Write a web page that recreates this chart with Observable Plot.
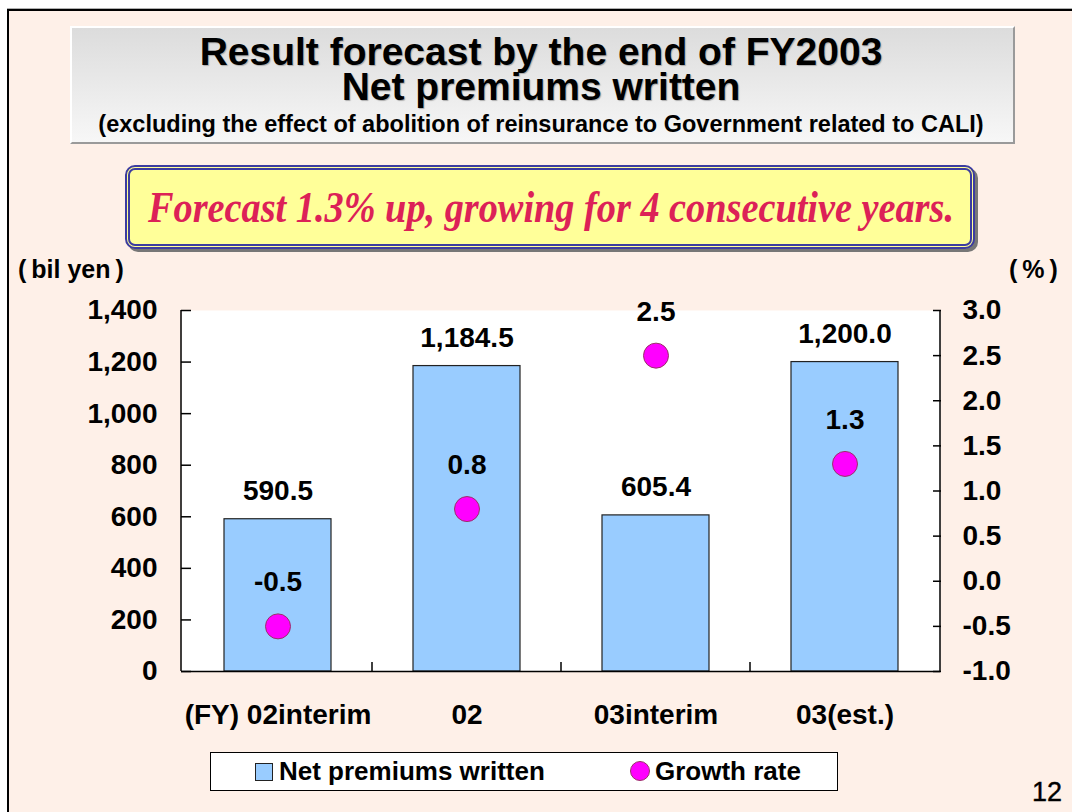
<!DOCTYPE html>
<html>
<head>
<meta charset="utf-8">
<script src="https://cdn.jsdelivr.net/npm/d3@7"></script>
<script src="https://cdn.jsdelivr.net/npm/@observablehq/plot@0.6"></script>
<style>
  html, body { margin: 0; padding: 0; background: #ffffff; }
  body { width: 1072px; height: 812px; position: relative; overflow: hidden; font-family: "Liberation Sans", Arial, sans-serif; }
  #page { position: absolute; left: 7px; top: 9px; right: -4px; bottom: -4px; background: #FEF0E8; border-left: 2px solid #000; border-top: 2px solid #000; box-shadow: 0 -1px 0 #b0b0b0; }
  #titlebox { position: absolute; left: 70px; top: 26px; width: 941px; height: 114px; background: linear-gradient(#dcdcdc, #f7f7f7); border-top: 2px solid #fff; border-left: 2px solid #fff; border-right: 2px solid #9a9a9a; border-bottom: 2px solid #9a9a9a; }
  .t { position: absolute; left: 0; width: 1082px; text-align: center; font-weight: bold; color: #000; white-space: nowrap; }
  #t1 { top: 34px; font-size: 39px; line-height: 35px; text-shadow: 1px 1px 1px #aaa; }
  #t3 { top: 111px; font-size: 23.5px; line-height: 26px; }
  #banner { position: absolute; left: 125px; top: 165px; width: 840px; height: 74px; background: #FFFF99; border: 5px double #3c3ca0; border-radius: 10px; box-shadow: 3px 3px 0 #777; }
  #bannertext { position: absolute; left: 0; top: 170px; width: 1102px; text-align: center; font-family: "Liberation Serif", "Times New Roman", serif; font-style: italic; font-weight: bold; font-size: 44px; line-height: 76px; color: #DC2157; white-space: nowrap; transform: scaleX(0.87); transform-origin: 50% 50%; }
  .lab { position: absolute; font-weight: bold; font-size: 25px; color: #000; white-space: nowrap; }
  #chart { position: absolute; left: 0; top: 290px; }
  #legend { position: absolute; left: 210px; top: 752px; width: 626px; height: 37px; background: #fff; border: 1px solid #000; }
  .lg { position: absolute; top: 0; line-height: 37px; font-size: 26px; font-weight: bold; white-space: nowrap; }
  #sw1 { position: absolute; left: 44px; top: 10px; width: 16px; height: 16px; background: #99CCFF; border: 1px solid #222; }
  #sw2 { position: absolute; left: 419px; top: 8px; width: 20px; height: 20px; border-radius: 50%; background: #FF00FF; border: 1px solid #993366; box-sizing: border-box; }
  #pagenum { position: absolute; left: 1032px; top: 777px; font-size: 27px; color: #000; -webkit-text-stroke: 0.4px #000; }
</style>
</head>
<body>
<div id="page"></div>
<div id="titlebox"></div>
<div class="t" id="t1">Result forecast by the end of FY2003<br>Net premiums written</div>
<div class="t" id="t3">(excluding the effect of abolition of reinsurance to Government related to CALI)</div>
<div id="banner"></div>
<div id="bannertext">Forecast 1.3% up, growing for 4 consecutive years.</div>
<div class="lab" style="left:18px; top:255px;">(&#8201;bil yen&#8201;)</div>
<div class="lab" style="left:1009px; top:255px;">(&#8201;%&#8201;)</div>
<div id="chart"></div>
<div id="legend">
  <div id="sw1"></div><div class="lg" style="left:68px;">Net premiums written</div>
  <div id="sw2"></div><div class="lg" style="left:444px;">Growth rate</div>
</div>
<div id="pagenum">12</div>
<script>
// ---- data ----
const categories = ["(FY) 02interim", "02", "03interim", "03(est.)"];
const premiums = [590.5, 1184.5, 605.4, 1200.0];   // bil yen
const growth = [-0.5, 0.8, 2.5, 1.3];               // %
const leftTicks = [0, 200, 400, 600, 800, 1000, 1200, 1400];
const rightTicks = [-1.0, -0.5, 0.0, 0.5, 1.0, 1.5, 2.0, 2.5, 3.0];
const leftDomain = [0, 1400];
const rightDomain = [-1.0, 3.0];

const rows = categories.map((c, i) => ({cat: c, value: premiums[i], growth: growth[i]}));

// map the % axis onto the bil-yen axis
const g2y = d3.scaleLinear(rightDomain, leftDomain);

const font = {fontSize: 28, fontWeight: "bold", fill: "#000"};

const axisLines = (index, scales, values, dims) => {
  const g = d3.create("svg:g").attr("stroke", "#000").attr("stroke-width", 1.5);
  const y0 = scales.y(leftDomain[0]), y1 = scales.y(leftDomain[1]);
  const xl = dims.marginLeft, xr = dims.width - dims.marginRight;
  g.append("line").attr("x1", xl).attr("x2", xl).attr("y1", y0).attr("y2", y1);
  g.append("line").attr("x1", xr).attr("x2", xr).attr("y1", y0).attr("y2", y1);
  categories.slice(1).forEach(c => {
    const x = scales.x(c);
    g.append("line").attr("x1", x).attr("x2", x).attr("y1", y0).attr("y2", y0 - 9);
  });
  return g.node();
};

const chart = Plot.plot({
  width: 1072,
  height: 450,
  marginTop: 20,
  marginBottom: 69,
  marginLeft: 181,
  marginRight: 132,
  style: {background: "transparent", fontFamily: "'Liberation Sans', Arial, sans-serif", color: "#000", overflow: "visible"},
  x: {type: "band", domain: categories, padding: 0},
  y: {domain: leftDomain},
  marks: [
    Plot.frame({fill: "#fff", stroke: "none"}),
    Plot.barY(rows, {x: "cat", y: "value", fill: "#99CCFF", stroke: "#222", strokeWidth: 1.2, insetLeft: 41, insetRight: 41}),
    Plot.ruleY([0], {stroke: "#000", strokeWidth: 1.5}),
    axisLines,
    Plot.axisY(leftTicks, {anchor: "left", tickFormat: d3.format(","), tickSize: -10, tickPadding: 34, strokeWidth: 1.5, label: null, ...font}),
    Plot.axisY(rightTicks.map(g2y), {anchor: "right", tickFormat: v => g2y.invert(v).toFixed(1), tickSize: -8, tickPadding: 30, strokeWidth: 1.5, label: null, ...font}),
    Plot.axisX({anchor: "bottom", tickSize: 0, tickPadding: 33, label: null, ...font}),
    Plot.text(rows, {x: "cat", y: "value", text: d => d3.format(",.1f")(d.value), dy: -28, ...font}),
    Plot.dot(rows, {x: "cat", y: d => g2y(d.growth), r: 12.5, fill: "#FF00FF", stroke: "#993366", strokeWidth: 1}),
    Plot.text(rows, {x: "cat", y: d => g2y(d.growth), text: d => d.growth.toFixed(1), dy: -44, ...font})
  ]
});
document.getElementById("chart").appendChild(chart);
</script>
</body>
</html>
